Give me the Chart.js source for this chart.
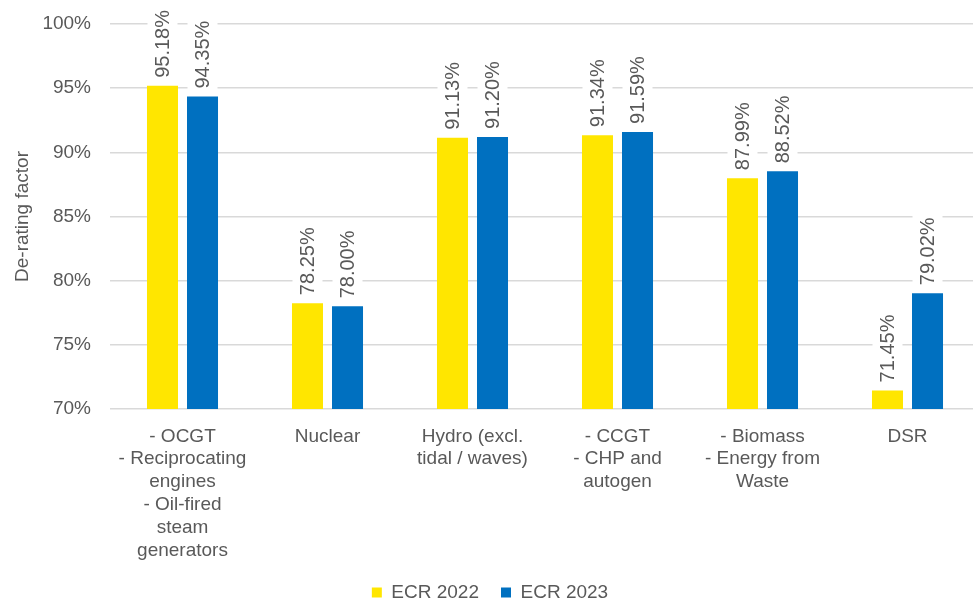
<!DOCTYPE html>
<html>
<head>
<meta charset="utf-8">
<title>De-rating factors: ECR 2022 vs ECR 2023</title>
<script src="https://cdn.jsdelivr.net/npm/chart.js@4/dist/chart.umd.min.js"></script>
<style>
  html, body { margin: 0; padding: 0; background: #ffffff; overflow: hidden; }
  #wrap { position: relative; width: 980px; height: 612px; }
</style>
</head>
<body>
<div id="wrap"><canvas id="chart"></canvas></div>
<script>
// Technology classes (multi-line axis labels)
const categories = [
  ['- OCGT', '- Reciprocating', 'engines', '- Oil-fired', 'steam', 'generators'],
  'Nuclear',
  ['Hydro (excl.', 'tidal / waves)'],
  ['- CCGT', '- CHP and', 'autogen'],
  ['- Biomass', '- Energy from', 'Waste'],
  'DSR'
];

// De-rating factors, in percent
const ecr2022 = [95.18, 78.25, 91.13, 91.34, 87.99, 71.45];
const ecr2023 = [94.35, 78.00, 91.20, 91.59, 88.52, 79.02];

const seriesNames = ['ECR 2022', 'ECR 2023'];
const yMin = 70;
const yMax = 100;
const yStep = 5;

const FONT = '"Liberation Sans", Arial, sans-serif';
const TEXT = '#595959';

// Rotated value labels above each bar, on a white backing
const barValueLabels = {
  id: 'barValueLabels',
  afterDatasetsDraw(chart) {
    const ctx = chart.ctx;
    ctx.save();
    ctx.font = '20px ' + FONT;
    chart.data.datasets.forEach((ds, di) => {
      const meta = chart.getDatasetMeta(di);
      meta.data.forEach((bar, i) => {
        const text = ds.data[i].toFixed(2) + '%';
        const w = ctx.measureText(text).width;
        ctx.save();
        ctx.translate(bar.x, bar.y - 8);
        ctx.rotate(-Math.PI / 2);
        ctx.fillStyle = '#ffffff';
        ctx.fillRect(-3, -15, w + 6, 30);
        ctx.fillStyle = TEXT;
        ctx.textAlign = 'left';
        ctx.textBaseline = 'middle';
        ctx.fillText(text, 0, 1);
        ctx.restore();
      });
    });
    ctx.restore();
  }
};

new Chart(document.getElementById('chart'), {
  type: 'bar',
  data: {
    labels: categories,
    datasets: [
      {
        label: seriesNames[0],
        data: ecr2022,
        backgroundColor: '#FFE600',
        borderWidth: 0,
        categoryPercentage: 0.552,
        barPercentage: 0.775
      },
      {
        label: seriesNames[1],
        data: ecr2023,
        backgroundColor: '#0070C0',
        borderWidth: 0,
        categoryPercentage: 0.552,
        barPercentage: 0.775
      }
    ]
  },
  options: {
    responsive: true,
    maintainAspectRatio: false,
    devicePixelRatio: 1,
    animation: false,
    layout: { padding: { top: 24, right: 0, bottom: 0, left: 0 } },
    plugins: {
      tooltip: { enabled: false },
      legend: {
        position: 'bottom',
        labels: {
          color: TEXT,
          font: { family: FONT, size: 19 },
          boxWidth: 10,
          boxHeight: 10,
          padding: 22
        }
      }
    },
    scales: {
      x: {
        grid: { display: false, drawTicks: false },
        border: { display: false },
        ticks: {
          color: TEXT,
          font: { family: FONT, size: 19, lineHeight: 1.2 },
          padding: 16,
          maxRotation: 0,
          autoSkip: false
        },
        afterFit(scale) { scale.height = 152; }
      },
      y: {
        min: yMin,
        max: yMax,
        grid: { color: '#d9d9d9', lineWidth: 1.5, drawTicks: false },
        border: { display: false },
        ticks: {
          stepSize: yStep,
          color: TEXT,
          font: { family: FONT, size: 19 },
          padding: 19,
          callback: (v) => v + '%'
        },
        title: {
          display: true,
          text: 'De-rating factor',
          color: TEXT,
          font: { family: FONT, size: 19 },
          padding: { top: 11, bottom: 0 }
        },
        afterFit(scale) {
          scale.width = 110;
          scale.paddingTop = 12;
          scale.paddingBottom = 12;
        }
      }
    }
  },
  plugins: [barValueLabels]
});
</script>
</body>
</html>
